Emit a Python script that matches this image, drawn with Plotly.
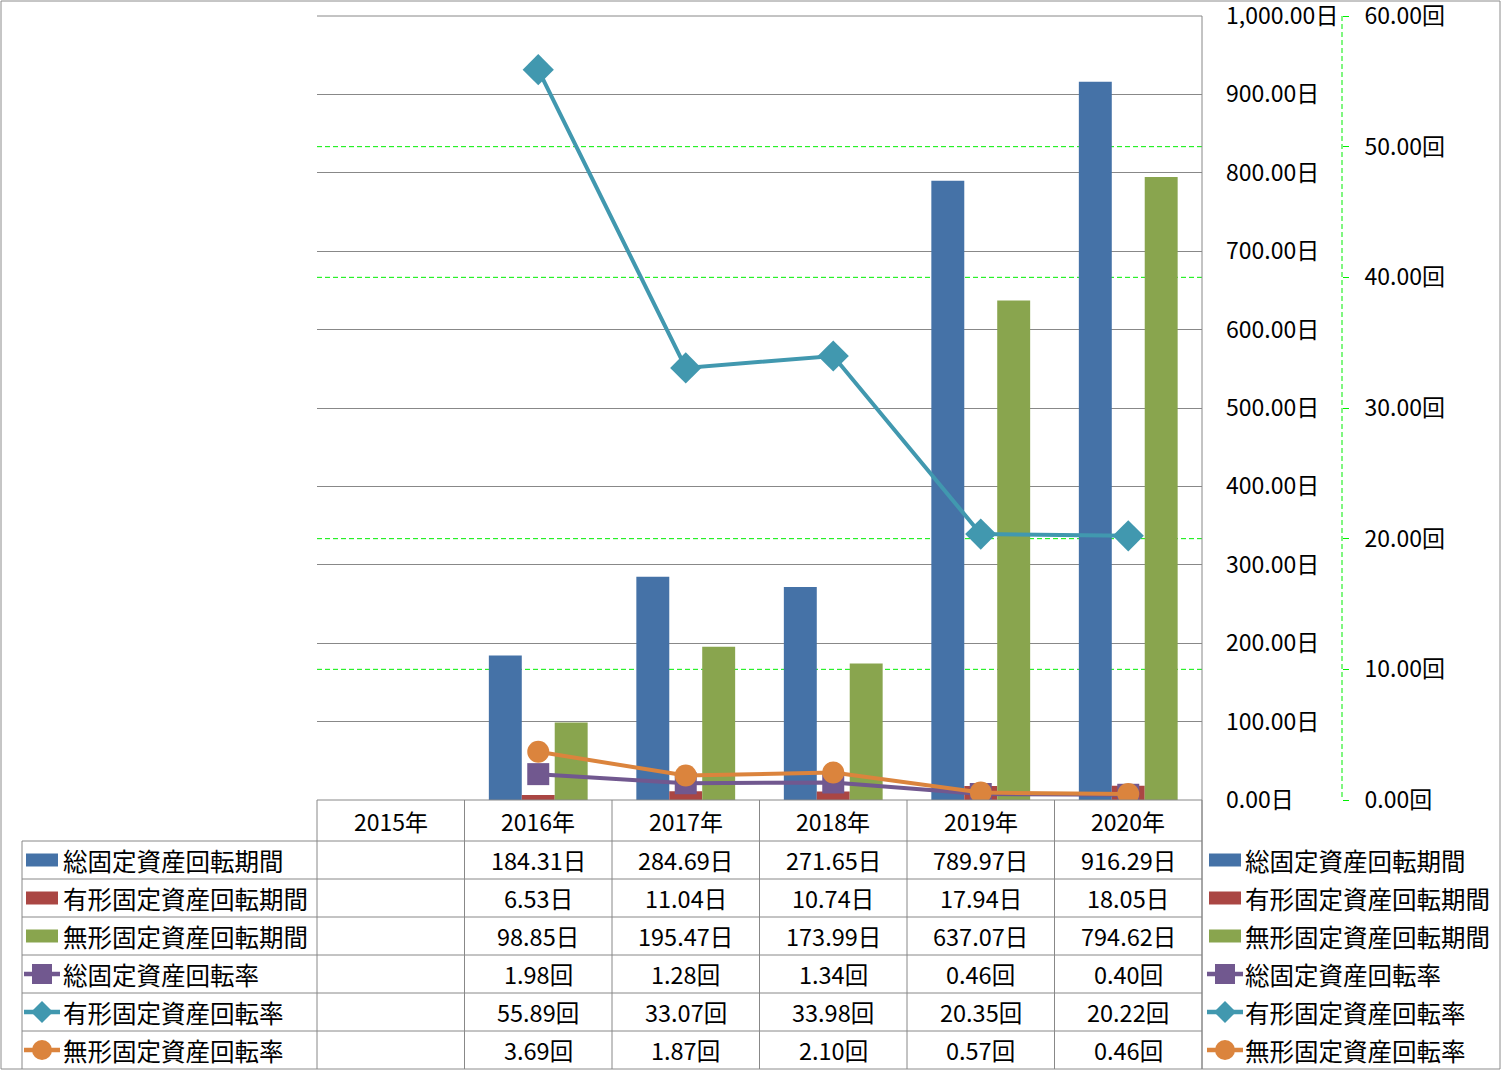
import plotly.graph_objects as go

W, H = 1502, 1071

years = ["2015年", "2016年", "2017年", "2018年", "2019年", "2020年"]
series_names = ["総固定資産回転期間", "有形固定資産回転期間", "無形固定資産回転期間",
                "総固定資産回転率", "有形固定資産回転率", "無形固定資産回転率"]
total_days = [None, 184.31, 284.69, 271.65, 789.97, 916.29]
tangible_days = [None, 6.53, 11.04, 10.74, 17.94, 18.05]
intangible_days = [None, 98.85, 195.47, 173.99, 637.07, 794.62]
total_rate = [None, 1.98, 1.28, 1.34, 0.46, 0.40]
tangible_rate = [None, 55.89, 33.07, 33.98, 20.35, 20.22]
intangible_rate = [None, 3.69, 1.87, 2.10, 0.57, 0.46]
rate_grid_vals = [10, 20, 40, 50]

colors = ["#4572A7", "#AA4643", "#89A54E", "#71588F", "#4198AF", "#DB843D"]
FONT = "Noto Sans CJK JP"
GRID = "#888888"
GREEN = "#00ee00"

def px(x):
    return x / W

def py(y):
    return 1 - y / H

PL, PR, PT, PB = 317, 1202, 16, 800

fig = go.Figure()

bar_data = [total_days, tangible_days, intangible_days]
for i, d in enumerate(bar_data):
    fig.add_trace(go.Bar(x=years, y=d, name=series_names[i], marker=dict(color=colors[i], line=dict(width=0)),
                         yaxis="y", showlegend=False))

line_data = [total_rate, tangible_rate, intangible_rate]
symbols = ["square", "diamond", "circle"]
msizes = [22, 24, 22]
for j, d in enumerate(line_data):
    fig.add_trace(go.Scatter(x=years, y=d, name=series_names[3 + j], yaxis="y2", mode="lines+markers",
                             line=dict(color=colors[3 + j], width=4),
                             marker=dict(symbol=symbols[j], size=msizes[j], color=colors[3 + j], line=dict(width=0)),
                             showlegend=False, connectgaps=False))

shapes = []
annotations = []

def hline(y, x0, x1, color=GRID, width=1, dash=None, layer="above"):
    shapes.append(dict(type="line", xref="paper", yref="paper", x0=px(x0), x1=px(x1), y0=py(y), y1=py(y),
                       line=dict(color=color, width=width, dash=dash), layer=layer))

def vline(x, y0, y1, color=GRID, width=1, dash=None, layer="above"):
    shapes.append(dict(type="line", xref="paper", yref="paper", x0=px(x), x1=px(x), y0=py(y0), y1=py(y1),
                       line=dict(color=color, width=width, dash=dash), layer=layer))

# outer border
shapes.append(dict(type="rect", xref="paper", yref="paper", x0=px(1), x1=px(1500), y0=py(1), y1=py(1069),
                   line=dict(color="#8c8c8c", width=1), layer="below"))

# secondary (rate) gridlines, dashed green, behind the bars
for v in rate_grid_vals:
    shapes.append(dict(type="line", xref="x domain", yref="y2", x0=0, x1=1, y0=v, y1=v,
                       line=dict(color=GREEN, width=1, dash="5px,3px"), layer="below"))

# top edge gridline (plotly clips end gridlines)
hline(PT, PL, PR)

# data table grid
row_tops = [800, 841, 879, 917, 955, 993, 1031, 1069]
hline(800, PL, PR)
for y in row_tops[1:-1]:
    hline(y, 22, PR)
vline(22, 841, 1069)
cat_w = (PR - PL) / len(years)
for k in range(len(years) + 1):
    vline(PL + k * cat_w, 800, 1069)
vline(PR, PT, 1069)

# secondary axis dashed line
vline(1342, PT, PB, color=GREEN, width=1, dash="5px,3px")

# header text
for k, yr in enumerate(years):
    annotations.append(dict(x=yr, y=py(821), xref="x", yref="paper", text=yr, showarrow=False,
                            font=dict(family=FONT, size=23, color="#000"), xanchor="center", yanchor="middle"))

all_data = [total_days, tangible_days, intangible_days, total_rate, tangible_rate, intangible_rate]
suffix = ["日", "日", "日", "回", "回", "回"]
for r, d in enumerate(all_data):
    yc = (row_tops[r + 1] + row_tops[r + 2]) / 2
    for k, v in enumerate(d):
        if v is None:
            continue
        annotations.append(dict(x=years[k], y=py(yc), xref="x", yref="paper", text=f"{v:.2f}{suffix[r]}",
                                showarrow=False, font=dict(family=FONT, size=23.5, color="#000"),
                                xanchor="center", yanchor="middle"))
    for kx, tx in ((42, 61), (1225, 1243)):
        annotations.append(dict(x=px(tx), y=py(yc), xref="paper", yref="paper", text=series_names[r],
                                showarrow=False, font=dict(family=FONT, size=24.5, color="#000"),
                                xanchor="left", yanchor="middle"))
        c = colors[r]
        if r < 3:
            shapes.append(dict(type="rect", xref="paper", yref="paper", x0=px(kx - 16), x1=px(kx + 16),
                               y0=py(yc - 6.5), y1=py(yc + 6.5), fillcolor=c, line=dict(width=0), layer="above"))
        else:
            shapes.append(dict(type="line", xref="paper", yref="paper", x0=px(kx - 18), x1=px(kx + 18),
                               y0=py(yc), y1=py(yc), line=dict(color=c, width=4.5), layer="above"))
            s = 10
            if r == 3:
                shapes.append(dict(type="rect", xref="paper", yref="paper", x0=px(kx - s), x1=px(kx + s),
                                   y0=py(yc - s), y1=py(yc + s), fillcolor=c, line=dict(width=0), layer="above"))
            elif r == 4:
                path = (f"M {px(kx - s - 1)},{py(yc)} L {px(kx)},{py(yc - s - 1)} "
                        f"L {px(kx + s + 1)},{py(yc)} L {px(kx)},{py(yc + s + 1)} Z")
                shapes.append(dict(type="path", xref="paper", yref="paper", path=path, fillcolor=c,
                                   line=dict(width=0), layer="above"))
            else:
                shapes.append(dict(type="circle", xref="paper", yref="paper", x0=px(kx - s), x1=px(kx + s),
                                   y0=py(yc - s), y1=py(yc + s), fillcolor=c, line=dict(width=0), layer="above"))

fig.update_layout(
    width=W, height=H, autosize=False,
    margin=dict(l=0, r=0, t=0, b=0, pad=0, autoexpand=False),
    paper_bgcolor="white", plot_bgcolor="white",
    barmode="group", bargap=0.33, bargroupgap=0,
    showlegend=False,
    font=dict(family=FONT, size=22, color="#000"),
    xaxis=dict(domain=[px(PL), px(PR)], type="category", range=[-0.5, 5.5], showticklabels=False,
               showgrid=False, zeroline=False, showline=False, ticks="", automargin=False),
    yaxis=dict(domain=[py(PB), py(PT)], range=[0, 1000], dtick=100, tickformat=",.2f", ticksuffix="日",
               side="right", anchor="free", position=px(PR), showgrid=True, gridcolor=GRID, gridwidth=1,
               zeroline=False, showline=False, ticks="", ticklabelstandoff=23, ticklabeloverflow="allow",
               automargin=False, tickfont=dict(family=FONT, size=23, color="#000")),
    yaxis2=dict(domain=[py(PB), py(PT)], range=[0, 60], dtick=10, tickformat=".2f", ticksuffix="回",
                side="right", anchor="free", position=px(1342), overlaying="y", showgrid=False,
                zeroline=False, showline=False, ticks="outside", ticklen=6, tickcolor=GREEN, tickwidth=1,
                ticklabelstandoff=11, ticklabeloverflow="allow", automargin=False,
                tickfont=dict(family=FONT, size=23, color="#000")),
    shapes=shapes,
    annotations=annotations,
)

fig.write_html("out.html", config={"responsive": False})
